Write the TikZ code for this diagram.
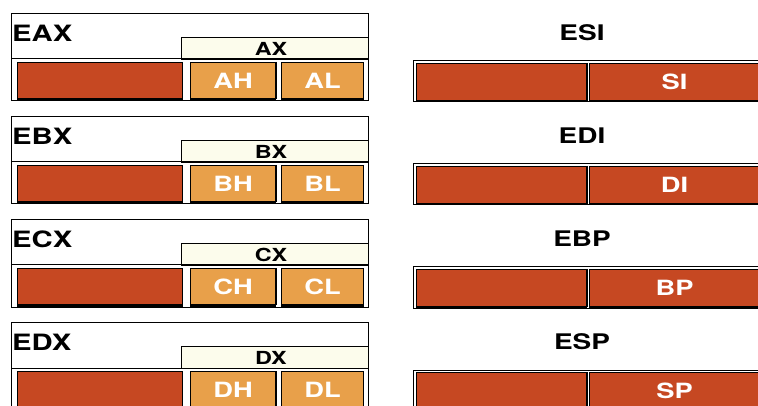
\documentclass[tikz,border=0pt]{standalone}
\usepackage{fontspec}
\setmainfont{TeX Gyre Heros}[FakeStretch=1.3]
\usepackage{xcolor}
\usetikzlibrary{math}

\definecolor{regred}{RGB}{198,72,34}
\definecolor{regorange}{RGB}{232,160,74}
\definecolor{regcream}{RGB}{252,252,236}

\tikzset{
  cell/.style={draw=black, line width=1.2, inner sep=0pt, anchor=north west,
    minimum height=36, text=white, font=\bfseries\fontsize{21}{21}\selectfont},
  reglabel/.style={inner sep=0pt, font=\bfseries\fontsize{22.5}{22.5}\selectfont},
  halflabel/.style={inner sep=0pt, font=\bfseries\fontsize{18}{18}\selectfont}
}

\begin{document}
\begin{tikzpicture}[x=1pt, y=-1pt]
\useasboundingbox (0,0) rectangle (758,406);
\clip (0,0) rectangle (758,406);

% general registers, left
\foreach \n/\r [count=\i from 0] in {A/SI, B/DI, C/BP, D/SP}{
  \tikzmath{\t = 13 + 103*\i;}

  \draw[line width=0.8] (11,\t+46) -- (11,\t) -- (368,\t) -- (368,\t+88);
  \node[reglabel, anchor=west] (el\i) at (12,\t+20) {E\n X};

  \filldraw[fill=regcream, line width=0.8] (181,\t+46) -- (181,\t+24) -- (368,\t+24) -- (368,\t+46) -- cycle;
  \node[halflabel] (xl\i) at (271,\t+36) {\n X};

  \draw[line width=1] (11,\t+46) rectangle (368,\t+88);
  \node[cell, fill=regred, minimum width=165] (hi\i) at (17,\t+49) {};
  \node[cell, fill=regorange, minimum width=85] (h\i) at (190,\t+49) {\n H};
  \node[cell, fill=regorange, minimum width=82] (l\i) at (281,\t+49) {\n L};
  \foreach \c in {hi\i, h\i, l\i}
    \draw[line width=3] (\c.south west) -- (\c.south east);
  \draw[line width=2.5] (h\i.north east) -- (h\i.south east);

  % index and pointer registers, right
  \node[reglabel, font=\bfseries\fontsize{21.5}{21.5}\selectfont] (rl\i) at (582,\t+20) {E\r};
  \draw[line width=1] (413,\t+48) rectangle (760,\t+89);
  \node[cell, fill=regred, minimum width=170, minimum height=37] (ru\i) at (416,\t+50) {};
  \node[cell, fill=regred, minimum width=170, minimum height=37] (rx\i) at (589,\t+50) {\r};
  \draw[line width=2.5] (ru\i.north east) -- (ru\i.south east);
  \foreach \c in {ru\i, rx\i}
    \draw[line width=2.5] (\c.south west) -- (\c.south east);
}

\end{tikzpicture}
\end{document}
